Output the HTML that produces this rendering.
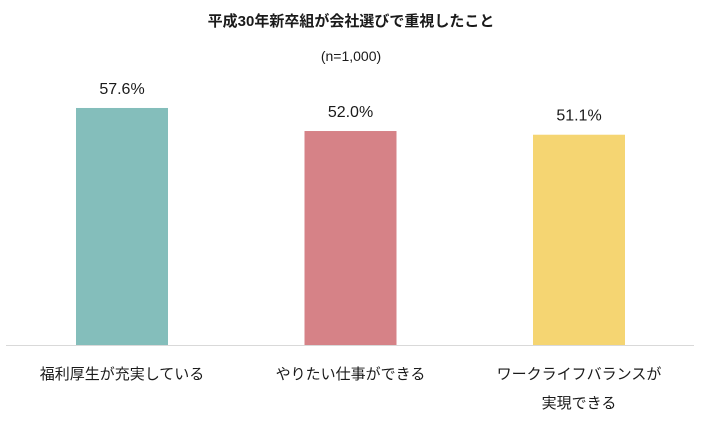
<!DOCTYPE html>
<html><head><meta charset="utf-8"><style>
body{margin:0;background:#fff;}
svg text{font-family:"Liberation Sans","Noto Sans CJK JP",sans-serif;fill:#1a1a1a;}
</style></head><body>
<svg width="704" height="422" viewBox="0 0 704 422">
<text x="351" y="26" text-anchor="middle" font-size="15" font-weight="bold">平成30年新卒組が会社選びで重視したこと</text>
<text x="351" y="61" text-anchor="middle" font-size="14">(n=1,000)</text>
<g id="bars"></g>
<line x1="6" y1="345.5" x2="694" y2="345.5" stroke="#d9d9d9" stroke-width="1"/>
</svg>
<script>
const categories=[["福利厚生が充実している"],["やりたい仕事ができる"],["ワークライフバランスが","実現できる"]];
const values=[57.6,52.0,51.1];
const valueLabels=["57.6%","52.0%","51.1%"];
const colors=["#84BEBB","#D68287","#F5D572"];
const baseY=345, pxPer=4.115, x0=122, step=228.5, bw=92;
const yS=v=>baseY-v*pxPer;
const xS=i=>x0+i*step;
const g=document.getElementById('bars');
const NS="http://www.w3.org/2000/svg";
values.forEach((v,i)=>{
  const r=document.createElementNS(NS,'rect');
  r.setAttribute('x',xS(i)-bw/2);r.setAttribute('y',yS(v));
  r.setAttribute('width',bw);r.setAttribute('height',baseY-yS(v));
  r.setAttribute('fill',colors[i]);
  
  
  g.appendChild(r);
  const t=document.createElementNS(NS,'text');
  t.setAttribute('x',xS(i));t.setAttribute('y',yS(v)-14);
  t.setAttribute('text-anchor','middle');t.setAttribute('font-size','16');
  t.textContent=valueLabels[i];
  
  
  g.appendChild(t);
  categories[i].forEach((line,j)=>{
    const c=document.createElementNS(NS,'text');
    c.setAttribute('x',xS(i));c.setAttribute('y',379+j*29);
    c.setAttribute('text-anchor','middle');c.setAttribute('font-size','15');
    c.textContent=line;
    
    
    g.appendChild(c);
  });
});
</script>
</body></html>
